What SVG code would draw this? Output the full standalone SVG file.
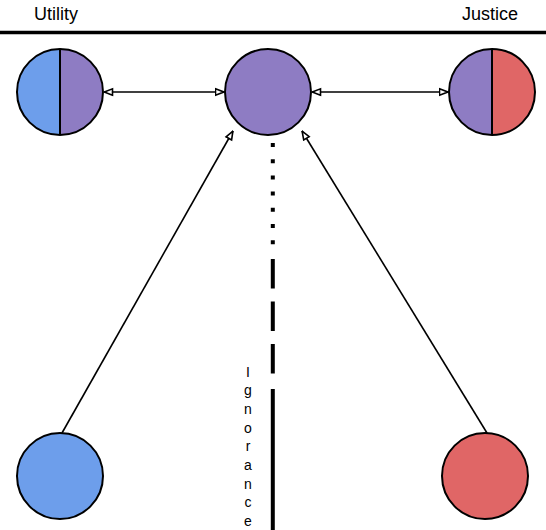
<svg xmlns="http://www.w3.org/2000/svg" width="546" height="530" viewBox="0 0 546 530">
<style>
.lbl{font-family:"Liberation Sans",Arial,sans-serif;font-size:18px;fill:#000}
.vt{font-family:"Liberation Sans",Arial,sans-serif;font-size:14px;fill:#000}
.node{stroke:#000;stroke-width:2}
.blue{fill:#6D9EEB}.purple{fill:#8E7CC3}.red{fill:#E06666}
.conn{stroke:#000;stroke-width:1.6;fill:none}
.vline{stroke:#000;stroke-width:4;fill:none}
</style>
<defs>
<marker id="ah" viewBox="0 0 10 10" refX="9.5" refY="5" markerWidth="10" markerHeight="10" orient="auto-start-reverse" markerUnits="userSpaceOnUse">
<path d="M1,1.8 L9.3,5 L1,8.2 Z" fill="#fff" stroke="#000" stroke-width="1.6"/>
</marker>
</defs>
<text class="lbl" x="34" y="19.5">Utility</text>
<text class="lbl" x="462" y="19.5">Justice</text>
<line x1="0" y1="32.5" x2="546" y2="32.5" stroke="#000" stroke-width="3.5"/>
<g id="connectors">
<line class="conn" x1="104" y1="92" x2="224" y2="92" marker-start="url(#ah)" marker-end="url(#ah)"/>
<line class="conn" x1="312" y1="92" x2="448" y2="92" marker-start="url(#ah)" marker-end="url(#ah)"/>
<line class="conn" x1="62" y1="433" x2="233" y2="131" marker-end="url(#ah)"/>
<line class="conn" x1="487" y1="433" x2="302" y2="131" marker-end="url(#ah)"/>
</g>
<g id="ignorance">
<line class="vline" x1="272.8" y1="143" x2="272.8" y2="245" stroke-dasharray="4 12.2"/>
<line class="vline" x1="272.8" y1="259" x2="272.8" y2="381" stroke-dasharray="29.5 13"/>
<line class="vline" x1="272.8" y1="389" x2="272.8" y2="530"/>
<text class="vt" text-anchor="middle"><tspan x="248" y="376.5">I</tspan><tspan x="248" y="395.2">g</tspan><tspan x="248" y="413.9">n</tspan><tspan x="248" y="432.6">o</tspan><tspan x="248" y="451.3">r</tspan><tspan x="248" y="470">a</tspan><tspan x="248" y="488.7">n</tspan><tspan x="248" y="507.4">c</tspan><tspan x="248" y="526.1">e</tspan></text>
</g>
<g id="utility-top">
<path class="blue" d="M60,49 A43,43 0 0 0 60,135 Z"/>
<path class="purple" d="M60,49 A43,43 0 0 1 60,135 Z"/>
<circle class="node" cx="60" cy="92" r="43" fill="none"/>
<line x1="60" y1="49" x2="60" y2="135" stroke="#000" stroke-width="2"/>
</g>
<g id="center">
<circle class="node purple" cx="268" cy="92" r="43"/>
</g>
<g id="justice-top">
<path class="purple" d="M492,49 A43,43 0 0 0 492,135 Z"/>
<path class="red" d="M492,49 A43,43 0 0 1 492,135 Z"/>
<circle class="node" cx="492" cy="92" r="43" fill="none"/>
<line x1="492" y1="49" x2="492" y2="135" stroke="#000" stroke-width="2"/>
</g>
<g id="utility-bottom">
<circle class="node blue" cx="60" cy="476" r="43"/>
</g>
<g id="justice-bottom">
<circle class="node red" cx="485" cy="476" r="43"/>
</g>
</svg>
